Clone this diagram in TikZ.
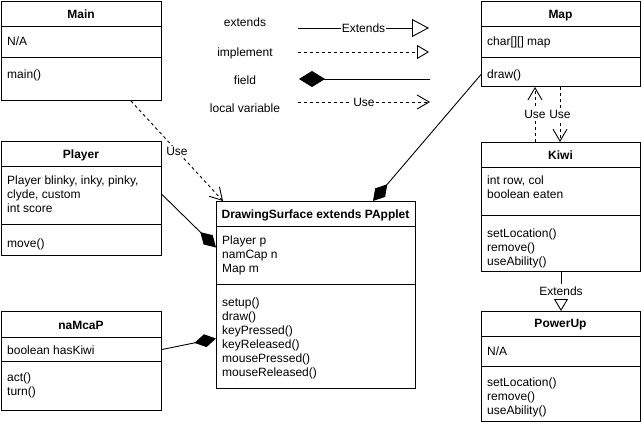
\documentclass[tikz,border=0pt]{standalone}
\usepackage{fontspec}
\setmainfont{Liberation Sans}
\usetikzlibrary{arrows.meta}

% one text line per entry of a member list, 14pt apart
\newcommand\memberlist[4]{%
  \foreach \t [count=\i from 0] in {#4} {%
    \node[lbl, anchor=base west] (#1-\i) at (#2, #3+14*\i) {\t};}}

\begin{document}
\begin{tikzpicture}[x=1pt, y=-1pt,
  box/.style={draw, line width=1pt, fill=white, inner sep=0pt, anchor=north west},
  sepline/.style={line width=1pt},
  lbl/.style={font=\fontsize{12}{14}\selectfont, inner sep=0pt},
  classtitle/.style={lbl, font=\fontsize{12}{14}\selectfont\bfseries, anchor=base},
  legendtext/.style={lbl, anchor=base},
  conn/.style={line width=0.9pt},
  usedash/.style={dash pattern=on 3pt off 3pt},
  edgelabel/.style={lbl, fill=white, inner sep=1pt},
  usetip/.style={-{Straight Barb[length=12pt,width=14pt]}},
  fieldtip/.style={-{Diamond[length=22pt,width=13pt]}},
  exttip/.style={-{Triangle[open,length=12pt,width=14pt,fill=white]}},
]
\useasboundingbox[fill=white] (0,0) rectangle (641,424);

% ---------- Main ----------
\node[box, minimum width=160pt, minimum height=99pt] (main) at (1,1) {};
\draw[sepline] (main.west |- 0,26) -- (main.east |- 0,26);
\draw[sepline] (main.west |- 0,57) -- (main.east |- 0,57);
\node[classtitle] (main-t) at (81,18) {Main};
\memberlist{main-a}{7}{45}{N/A}
\memberlist{main-m}{7}{78}{main()}

% ---------- Map ----------
\node[box, minimum width=159pt, minimum height=85pt] (map) at (481,1) {};
\draw[sepline] (map.west |- 0,26) -- (map.east |- 0,26);
\draw[sepline] (map.west |- 0,57) -- (map.east |- 0,57);
\node[classtitle] (map-t) at (560.5,18) {Map};
\memberlist{map-a}{487}{45}{{char[][] map}}
\memberlist{map-m}{487}{78}{draw()}

% ---------- Kiwi ----------
\node[box, minimum width=159pt, minimum height=129pt] (kiwi) at (481,142) {};
\draw[sepline] (kiwi.west |- 0,167) -- (kiwi.east |- 0,167);
\draw[sepline] (kiwi.west |- 0,215) -- (kiwi.east |- 0,215);
\node[classtitle] (kiwi-t) at (560.5,159) {Kiwi};
\memberlist{kiwi-a}{487}{184}{{int row, col}, {boolean eaten}}
\memberlist{kiwi-m}{487}{237}{setLocation(), remove(), useAbility()}

% ---------- PowerUp ----------
\node[box, minimum width=159pt, minimum height=110pt] (powerup) at (481,311) {};
\draw[sepline] (powerup.west |- 0,336) -- (powerup.east |- 0,336);
\draw[sepline] (powerup.west |- 0,366) -- (powerup.east |- 0,366);
\node[classtitle] (powerup-t) at (560.5,327) {PowerUp};
\memberlist{powerup-a}{487}{355}{N/A}
\memberlist{powerup-m}{487}{386}{setLocation(), remove(), useAbility()}

% ---------- Player ----------
\node[box, minimum width=160pt, minimum height=114pt] (player) at (1,141) {};
\draw[sepline] (player.west |- 0,166) -- (player.east |- 0,166);
\draw[sepline] (player.west |- 0,224) -- (player.east |- 0,224);
\node[classtitle] (player-t) at (81,158) {Player};
\memberlist{player-a}{7}{184}{{Player blinky, inky, pinky,}, {clyde, custom}, {int score}}
\memberlist{player-m}{7}{247}{move()}

% ---------- DrawingSurface ----------
\node[box, minimum width=199pt, minimum height=187pt] (ds) at (216,201) {};
\draw[sepline] (ds.west |- 0,226) -- (ds.east |- 0,226);
\draw[sepline] (ds.west |- 0,284) -- (ds.east |- 0,284);
\node[classtitle] (ds-t) at (315.5,218) {DrawingSurface extends PApplet};
\memberlist{ds-a}{222}{244}{{Player p}, {namCap n}, {Map m}}
\memberlist{ds-m}{222}{306}{setup(), draw(), keyPressed(), keyReleased(), mousePressed(), mouseReleased()}

% ---------- naMcaP ----------
\node[box, minimum width=160pt, minimum height=99pt] (namcap) at (1,311) {};
\draw[sepline] (namcap.west |- 0,337) -- (namcap.east |- 0,337);
\draw[sepline] (namcap.west |- 0,361) -- (namcap.east |- 0,361);
\node[classtitle] (namcap-t) at (81,329) {naMcaP};
\memberlist{namcap-a}{7}{354}{{boolean hasKiwi}}
\memberlist{namcap-m}{7}{381}{act(), turn()}

% ---------- relations ----------
\draw[conn, usedash, usetip] ([xshift=-31pt]main.south east) -- ([xshift=7pt]ds.north west)
  node[edgelabel, midway] (use-main) {Use};
\draw[conn, fieldtip] ([yshift=4pt]player.east) -- ([yshift=47.5pt]ds.west);
\draw[conn, fieldtip] ([yshift=11.5pt]namcap.east) -- ([yshift=-43.5pt]ds.west);
\draw[conn, fieldtip] ([yshift=-30.5pt]map.west) -- ([xshift=-43pt]ds.north east);
\draw[conn, usedash, usetip] ([xshift=54pt]kiwi.north west) -- ([xshift=54pt]map.south west)
  node[edgelabel, midway] (use-kiwi-map) {Use};
\draw[conn, usedash, usetip] ([xshift=79pt]map.south west) -- ([xshift=79pt]kiwi.north west)
  node[edgelabel, midway] (use-map-kiwi) {Use};
\draw[conn, exttip] (kiwi.south) -- (powerup.north)
  node[edgelabel, inner ysep=3.5pt, pos=0.5] (ext-kiwi) {Extends};

% ---------- legend ----------
\node[legendtext] (lg-ext) at (245,26) {extends};
\node[legendtext] (lg-impl) at (245,56) {implement};
\node[legendtext] (lg-field) at (245,84) {field};
\node[legendtext] (lg-local) at (245,112) {local variable};

\coordinate (ext-a) at (298,28);   \coordinate (ext-b) at (429,28);
\coordinate (impl-a) at (298,52);  \coordinate (impl-b) at (429,52);
\coordinate (field-a) at (430,79); \coordinate (field-b) at (299,79);
\coordinate (local-a) at (298,102); \coordinate (local-b) at (430,102);

\draw[conn, -{Triangle[open,length=17pt,width=18pt,fill=white]}] (ext-a) -- (ext-b)
  node[edgelabel, midway] (ext-lbl) {Extends};
\draw[conn, usedash, exttip] (impl-a) -- (impl-b);
\draw[conn, -{Diamond[length=26pt,width=16pt]}] (field-a) -- (field-b);
\draw[conn, usedash, usetip] (local-a) -- (local-b)
  node[edgelabel, midway] (local-lbl) {Use};
\end{tikzpicture}
\end{document}
